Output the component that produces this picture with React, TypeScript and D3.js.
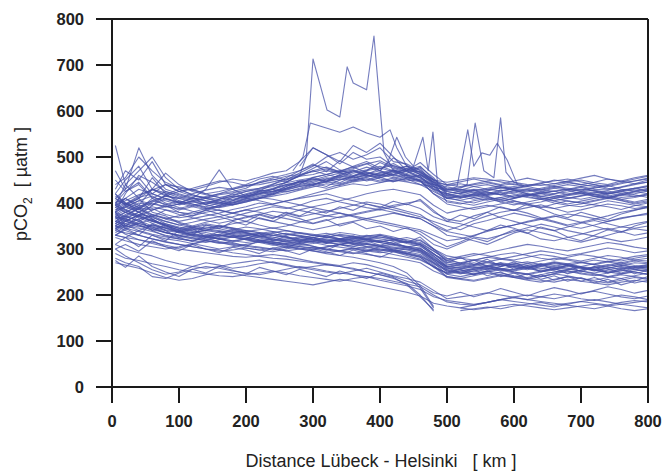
import React from "react";
import * as d3 from "d3";

// gap marker for stretches of a transect without measurements
const _ = null;

// distance along the Lübeck – Helsinki route [km]
const km = [5, 20, 40, 60, 80, 100, 120, 140, 160, 180, 200, 220, 240, 260, 280, 300, 320, 340, 360, 380, 400, 420, 440, 460, 480, 500, 520, 540, 560, 580, 600, 620, 640, 660, 680, 700, 720, 740, 760, 780, 800];

const xTicks = [0, 100, 200, 300, 400, 500, 600, 700, 800];
const yTicks = [0, 100, 200, 300, 400, 500, 600, 700, 800];

// pCO2 transects [µatm], cold-season crossings (high band)
const upperTracks: (number | null)[][] = [
  [400, 425, 445, 412, 405, 396, 402, 410, 418, 422, 428, 432, 441, 450, 458, 462, 470, 466, 472, 461, 456, 447, 452, 440, 436, 425, 420, 428, 416, 422, 412, 418, 421, 426, 418, 422, 415, 411, 420, 426, 430],
  [380, 395, 410, 430, 418, 405, 398, 392, 400, 412, 420, 428, 425, 436, 448, 445, 452, 460, 455, 463, 470, 458, 462, 450, 432, 418, 412, 420, 424, 418, 428, 420, 415, 410, 416, 420, 424, 418, 412, 415, 418],
  [360, 372, 390, 405, 398, 385, 392, 400, 408, 415, 412, 420, 430, 438, 442, 455, 448, 462, 470, 458, 465, 472, 460, 455, 440, 428, 430, 424, 418, 426, 432, 428, 422, 426, 430, 425, 418, 422, 428, 432, 425],
  [525, 440, 470, 500, 455, 430, 418, 410, 405, 400, 410, 418, 424, 430, 436, 440, 446, 452, 448, 456, 462, 455, 448, 452, 438, 412, 405, 400, 408, 412, 405, 398, 402, 410, 404, 400, 406, 412, 405, 398, 402],
  [390, 410, 430, 420, 440, 425, 415, 412, 420, 430, 438, 440, 446, 452, 460, 470, 478, 468, 480, 490, 475, 482, 470, 468, 445, 440, 436, 442, 448, 450, 445, 440, 438, 442, 446, 450, 444, 440, 448, 455, 460],
  [372, 385, 400, 395, 410, 402, 395, 388, 392, 398, 405, 410, 418, 425, 430, 438, 432, 440, 448, 452, 445, 450, 456, 448, 428, 410, 415, 418, 412, 408, 415, 420, 412, 405, 410, 415, 420, 414, 408, 412, 418],
  [410, 430, 520, 460, 430, 420, 412, 405, 400, 396, 402, 410, 415, 420, 428, 435, 442, 438, 446, 450, 458, 462, 452, 446, 430, 420, 426, 430, 428, 432, 436, 432, 428, 434, 440, 436, 430, 428, 435, 442, 445],
  [350, 365, 380, 400, 392, 388, 395, 402, 398, 405, 412, 420, 426, 432, 440, 448, 455, 450, 458, 465, 460, 468, 474, 462, 440, 430, 426, 422, 430, 436, 428, 424, 430, 436, 432, 428, 434, 438, 430, 426, 432],
  [430, 470, 450, 490, 440, 425, 430, 420, 412, 418, 425, 430, 436, 445, 460, 475, 490, 472, 460, 470, 488, 475, 480, 465, 442, 435, 430, 426, 432, 438, 442, 436, 430, 425, 430, 436, 440, 432, 426, 432, 438],
  [385, 398, 412, 420, 408, 400, 410, 430, 472, 430, 415, 422, 430, 440, 445, 450, 458, 465, 455, 460, 452, 446, 454, 460, 445, 402, 398, 405, 410, 402, 396, 402, 408, 400, 395, 392, 398, 405, 400, 395, 392],
  [395, 405, 418, 428, 440, 435, 428, 420, 425, 432, 440, 452, 458, 450, 465, 480, 500, 510, 495, 505, 520, 490, 485, 470, 450, 445, 450, 455, 452, 446, 440, 436, 442, 450, 446, 440, 445, 452, 448, 442, 450],
  [345, 360, 375, 370, 385, 380, 376, 384, 392, 400, 408, 415, 420, 428, 436, 442, 448, 455, 450, 458, 466, 460, 470, 458, 436, 410, 418, 412, 406, 412, 418, 412, 408, 414, 420, 424, 418, 412, 418, 424, 428],
  [420, 450, 480, 430, 415, 410, 420, 428, 434, 430, 436, 444, 452, 446, 458, 470, 462, 455, 468, 478, 470, 462, 476, 468, 445, 425, 420, 415, 420, 428, 424, 418, 425, 432, 428, 420, 415, 410, 418, 425, 420],
  [375, 390, 405, 398, 392, 398, 405, 412, 408, 415, 425, 432, 438, 444, 450, 455, 462, 470, 465, 472, 480, 470, 462, 458, 430, 415, 410, 420, 415, 405, 410, 416, 422, 418, 412, 408, 414, 420, 425, 418, 412],
  [400, 410, 395, 430, 465, 440, 425, 418, 412, 406, 415, 420, 425, 432, 438, 444, 436, 450, 458, 448, 455, 462, 470, 476, 440, 432, 428, 436, 440, 434, 430, 426, 432, 438, 444, 440, 436, 430, 434, 440, 446],
  [365, 380, 392, 405, 415, 410, 402, 398, 405, 412, 418, 426, 430, 424, 432, 440, 446, 442, 450, 455, 448, 454, 460, 448, 420, 405, 400, 395, 402, 408, 400, 395, 390, 398, 405, 400, 396, 392, 386, 394, 400],
  [440, 455, 500, 470, 445, 432, 428, 436, 445, 452, 448, 456, 465, 470, 490, 520, 505, 485, 510, 495, 500, 480, 475, 462, 450, 438, 442, 436, 430, 426, 432, 438, 442, 436, 430, 426, 432, 438, 444, 448, 452],
  [390, 400, 385, 410, 425, 418, 410, 405, 400, 408, 415, 424, 432, 440, 446, 452, 448, 460, 470, 462, 455, 466, 472, 480, 450, 420, 412, 416, 422, 418, 412, 416, 420, 414, 410, 416, 422, 426, 420, 414, 420],
  [405, 398, 415, 430, 422, 412, 406, 400, 395, 402, 410, 405, 398, 404, 412, 420, 428, 436, 442, 438, 444, 450, 446, 440, 425, 410, 406, 412, 418, 424, 420, 414, 408, 412, 418, 424, 428, 422, 416, 420, 426],
  [355, 370, 388, 402, 415, 425, 432, 440, 448, 445, 438, 444, 450, 458, 462, 468, 474, 466, 458, 470, 476, 468, 458, 448, 420, 398, 392, 386, 392, 398, 404, 398, 392, 388, 394, 398, 404, 410, 406, 400, 405],
  [380, 420, 460, 445, 425, 415, 408, 414, 420, 425, 432, 446, 455, 462, 470, 482, 476, 468, 475, 485, 492, 478, 468, 455, 435, 428, 434, 440, 444, 438, 432, 438, 444, 448, 452, 446, 440, 436, 442, 448, 454],
  [415, 400, 390, 385, 392, 398, 404, 396, 390, 396, 402, 410, 420, 430, 442, 456, 462, 470, 478, 466, 460, 470, 480, 472, 448, 416, 422, 428, 424, 418, 424, 430, 426, 420, 424, 430, 426, 420, 424, 430, 436],
  [470, 430, 455, 420, 410, 400, 392, 386, 395, 405, 418, 426, 440, 455, 470, 485, 468, 492, 478, 486, 470, 498, 482, 466, 452, 430, 424, 418, 426, 434, 428, 420, 414, 420, 428, 434, 426, 420, 426, 432, 436],
  [335, 350, 372, 395, 418, 430, 418, 410, 402, 396, 404, 412, 422, 436, 448, 452, 446, 458, 452, 462, 475, 486, 470, 488, 462, 440, 446, 452, 446, 440, 448, 454, 448, 442, 448, 454, 460, 452, 446, 452, 458],
  [395, 440, 410, 455, 420, 400, 412, 396, 408, 420, 412, 425, 418, 432, 446, 438, 452, 444, 458, 468, 458, 472, 464, 478, 455, 420, 414, 408, 414, 402, 410, 418, 410, 404, 398, 404, 410, 416, 408, 402, 408],
];

// transects drifting between the two bands
const middleTracks: (number | null)[][] = [
  [370, 380, 395, 388, 375, 368, 372, 380, 385, 378, 385, 392, 398, 405, 410, 415, 420, 412, 405, 398, 392, 385, 378, 370, 360, 350, 342, 355, 362, 370, 378, 372, 365, 358, 350, 345, 352, 360, 368, 372, 375],
  [340, 355, 365, 372, 360, 352, 358, 365, 370, 362, 368, 375, 382, 378, 370, 376, 382, 388, 395, 402, 398, 390, 382, 375, 355, 340, 350, 362, 372, 380, 385, 378, 368, 360, 352, 358, 365, 372, 380, 385, 390],
  [395, 385, 372, 360, 352, 345, 350, 358, 364, 370, 378, 385, 392, 388, 395, 405, 410, 402, 396, 390, 385, 392, 398, 388, 370, 360, 355, 348, 340, 346, 352, 360, 366, 372, 365, 358, 350, 342, 348, 355, 360],
  [355, 368, 380, 392, 385, 375, 368, 362, 356, 362, 370, 376, 368, 375, 385, 392, 398, 405, 412, 420, 426, 430, 424, 418, 395, 378, 385, 390, 395, 390, 384, 390, 396, 388, 380, 385, 392, 398, 394, 388, 392],
  [420, 400, 380, 365, 350, 342, 336, 340, 348, 355, 360, 352, 345, 350, 358, 365, 372, 378, 370, 362, 356, 350, 344, 338, 320, 305, 315, 328, 340, 352, 345, 335, 322, 318, 325, 332, 340, 345, 338, 330, 335],
  [380, 392, 405, 415, 400, 390, 382, 376, 370, 378, 385, 380, 372, 366, 360, 355, 362, 370, 376, 382, 388, 395, 400, 405, 380, 365, 360, 372, 380, 368, 360, 352, 345, 340, 348, 356, 362, 355, 348, 345, 350],
  [330, 345, 360, 375, 368, 360, 366, 372, 378, 386, 392, 400, 396, 390, 384, 378, 372, 368, 374, 380, 386, 380, 372, 366, 350, 330, 325, 318, 310, 322, 335, 342, 336, 328, 320, 315, 322, 330, 338, 344, 340],
  [350, 362, 372, 384, 396, 404, 398, 390, 384, 378, 372, 366, 360, 354, 348, 342, 348, 354, 360, 366, 360, 354, 348, 342, 330, 318, 322, 330, 338, 346, 352, 358, 364, 370, 376, 372, 366, 360, 366, 372, 378],
  [410, 398, 386, 374, 366, 372, 380, 388, 394, 400, 406, 412, 408, 402, 396, 390, 384, 378, 372, 366, 372, 378, 372, 366, 350, 338, 332, 326, 322, 330, 338, 346, 354, 348, 340, 334, 328, 322, 316, 320, 326],
  [450, 425, 440, 410, 395, 380, 372, 385, 376, 368, 360, 374, 366, 380, 372, 386, 378, 392, 384, 398, 390, 404, 396, 408, 384, 360, 374, 366, 380, 392, 384, 398, 388, 376, 368, 380, 372, 364, 376, 384, 392],
  [310, 325, 305, 330, 318, 340, 330, 352, 344, 360, 352, 368, 360, 374, 366, 356, 364, 350, 358, 344, 350, 338, 346, 332, 310, 300, 312, 324, 316, 330, 342, 334, 348, 340, 326, 318, 330, 342, 336, 350, 358],
];

// warm-season crossings (low band)
const lowerTracks: (number | null)[][] = [
  [360, 350, 345, 338, 330, 325, 332, 328, 322, 318, 314, 318, 322, 316, 320, 325, 330, 322, 318, 315, 318, 312, 305, 300, 285, 262, 258, 264, 270, 266, 260, 255, 262, 268, 264, 258, 252, 258, 264, 270, 268],
  [380, 370, 362, 350, 342, 338, 330, 325, 332, 340, 335, 328, 322, 318, 312, 318, 325, 332, 328, 322, 316, 320, 325, 318, 300, 272, 266, 260, 255, 262, 268, 272, 266, 260, 256, 262, 268, 274, 270, 264, 260],
  [400, 385, 372, 360, 355, 348, 342, 345, 350, 346, 340, 335, 330, 326, 322, 320, 315, 318, 312, 310, 306, 302, 298, 292, 270, 255, 250, 246, 252, 258, 250, 245, 240, 246, 252, 248, 244, 240, 246, 250, 245],
  [345, 332, 320, 315, 308, 302, 310, 318, 325, 330, 326, 320, 315, 310, 305, 300, 305, 310, 316, 312, 306, 300, 292, 285, 265, 240, 236, 242, 248, 244, 238, 234, 240, 246, 242, 236, 232, 238, 244, 240, 236],
  [365, 372, 360, 345, 335, 330, 336, 342, 338, 332, 326, 320, 316, 312, 308, 312, 318, 315, 310, 305, 300, 296, 290, 282, 260, 248, 252, 258, 262, 256, 250, 246, 252, 258, 264, 260, 254, 248, 252, 258, 262],
  [330, 325, 340, 352, 346, 338, 332, 326, 322, 318, 322, 326, 330, 334, 330, 325, 320, 316, 322, 328, 332, 326, 318, 312, 295, 278, 284, 290, 286, 280, 276, 282, 288, 284, 278, 274, 280, 286, 282, 276, 280],
  [390, 380, 370, 362, 352, 345, 340, 336, 330, 326, 330, 334, 338, 332, 328, 322, 318, 320, 325, 330, 326, 322, 316, 310, 290, 268, 262, 258, 264, 270, 266, 260, 256, 262, 268, 272, 266, 260, 256, 262, 266],
  [350, 345, 338, 330, 322, 318, 312, 306, 300, 305, 310, 315, 312, 308, 302, 298, 304, 310, 306, 300, 296, 300, 304, 298, 280, 256, 260, 266, 262, 256, 252, 258, 264, 270, 266, 260, 254, 250, 256, 262, 258],
  [375, 362, 350, 342, 336, 330, 325, 320, 328, 334, 330, 324, 318, 322, 326, 320, 314, 310, 316, 322, 318, 312, 316, 310, 290, 265, 270, 276, 272, 266, 262, 268, 274, 280, 276, 270, 266, 272, 278, 284, 288],
  [410, 395, 380, 365, 350, 342, 348, 355, 350, 345, 338, 342, 346, 340, 334, 330, 334, 328, 322, 326, 330, 324, 320, 314, 296, 275, 270, 265, 272, 278, 274, 268, 262, 258, 264, 270, 276, 272, 266, 260, 265],
  [340, 335, 330, 322, 315, 310, 305, 300, 295, 298, 302, 298, 294, 300, 306, 302, 298, 294, 290, 296, 300, 296, 290, 284, 270, 245, 240, 246, 252, 248, 242, 238, 244, 250, 256, 252, 246, 240, 236, 242, 248],
  [385, 392, 380, 368, 360, 352, 346, 340, 336, 342, 348, 344, 338, 332, 328, 325, 330, 336, 332, 326, 322, 318, 314, 320, 300, 285, 280, 276, 282, 288, 292, 286, 280, 276, 282, 288, 284, 278, 274, 280, 285],
  [355, 348, 356, 364, 352, 340, 334, 328, 332, 326, 320, 316, 312, 318, 324, 330, 326, 320, 314, 310, 306, 310, 304, 296, 275, 258, 254, 250, 256, 262, 268, 264, 258, 252, 248, 254, 260, 266, 262, 256, 252],
  [370, 365, 355, 348, 340, 336, 330, 325, 322, 326, 330, 326, 320, 315, 312, 316, 322, 318, 312, 306, 304, 298, 294, 288, 268, 252, 246, 252, 258, 254, 248, 244, 250, 256, 252, 246, 242, 248, 254, 250, 244],
  [395, 410, 390, 375, 365, 358, 350, 344, 340, 336, 332, 328, 324, 330, 336, 332, 326, 322, 326, 320, 315, 320, 314, 308, 285, 262, 258, 254, 260, 266, 262, 258, 264, 270, 266, 260, 256, 262, 268, 274, 270],
  [325, 318, 310, 305, 300, 305, 312, 318, 314, 308, 302, 298, 302, 306, 310, 306, 300, 296, 300, 304, 298, 294, 288, 282, 262, 238, 234, 230, 236, 242, 238, 232, 228, 234, 240, 236, 230, 226, 232, 238, 234],
  [360, 375, 388, 370, 355, 345, 338, 332, 328, 335, 340, 336, 330, 325, 320, 316, 312, 318, 322, 318, 314, 310, 306, 302, 282, 260, 265, 270, 264, 258, 254, 260, 266, 272, 268, 262, 258, 264, 270, 276, 274],
  [345, 352, 340, 332, 326, 322, 318, 314, 320, 326, 322, 318, 314, 310, 314, 318, 314, 310, 306, 312, 308, 304, 300, 296, 276, 250, 256, 262, 258, 252, 256, 262, 268, 264, 258, 252, 248, 254, 260, 256, 250],
  [360, 355, 348, 352, 345, 338, 342, 348, 344, 338, 334, 330, 336, 340, 335, 330, 326, 322, 318, 322, 326, 320, 312, 306, 288, 275, 280, 286, 292, 298, 304, 310, 306, 300, 296, 302, 308, 314, 310, 304, 300],
  [395, 380, 368, 356, 345, 336, 328, 322, 316, 312, 308, 304, 300, 296, 300, 304, 300, 296, 292, 288, 284, 280, 276, 270, 252, 240, 236, 232, 238, 244, 240, 236, 232, 228, 234, 230, 226, 222, 228, 232, 228],
  [342, 360, 375, 362, 348, 340, 346, 352, 348, 342, 336, 332, 326, 320, 316, 320, 326, 330, 326, 320, 314, 308, 302, 298, 278, 262, 268, 275, 282, 278, 284, 290, 296, 292, 286, 290, 296, 302, 298, 292, 296],
  [378, 366, 352, 340, 328, 322, 318, 324, 330, 326, 320, 314, 308, 312, 318, 314, 308, 304, 300, 296, 292, 296, 300, 294, 272, 254, 248, 244, 250, 256, 262, 258, 252, 256, 262, 258, 254, 258, 264, 260, 256],
  [330, 342, 356, 348, 336, 330, 324, 318, 312, 316, 322, 318, 312, 306, 300, 296, 292, 296, 302, 298, 294, 288, 282, 276, 262, 246, 250, 256, 262, 268, 264, 258, 252, 248, 254, 260, 256, 250, 246, 252, 256],
  [370, 360, 352, 344, 336, 328, 322, 318, 314, 310, 306, 302, 298, 304, 300, 296, 290, 286, 282, 276, 270, 262, 248, 220, 175, _, _, _, _, _, _, _, _, _, _, _, _, _, _, _, _],
  [380, 350, 365, 340, 352, 335, 345, 326, 338, 330, 322, 334, 318, 328, 316, 326, 312, 322, 310, 318, 308, 316, 304, 310, 290, 270, 282, 266, 278, 262, 272, 258, 268, 254, 266, 250, 262, 248, 258, 246, 254],
  [420, 395, 410, 380, 372, 356, 348, 340, 352, 344, 336, 328, 334, 326, 318, 324, 316, 322, 328, 320, 330, 322, 314, 326, 300, 280, 268, 276, 262, 270, 256, 264, 250, 258, 246, 254, 262, 256, 248, 256, 262],
  [300, 310, 295, 318, 305, 296, 310, 300, 292, 304, 298, 290, 302, 296, 288, 300, 294, 286, 298, 290, 282, 294, 286, 278, 262, 248, 256, 244, 252, 240, 248, 236, 244, 232, 240, 230, 238, 228, 236, 226, 232],
  [370, 345, 330, 355, 340, 325, 316, 330, 322, 314, 306, 318, 310, 302, 314, 306, 298, 310, 302, 294, 306, 298, 290, 302, 278, 260, 248, 256, 242, 250, 238, 246, 234, 242, 230, 238, 226, 234, 222, 230, 240],
];

// lowest transects, some interrupted near 490–530 km
const bottomTracks: (number | null)[][] = [
  [300, 285, 270, 255, 245, 250, 262, 270, 265, 258, 262, 268, 272, 266, 260, 255, 250, 246, 252, 258, 250, 242, 236, 228, 210, 192, 196, 200, 205, 200, 195, 190, 196, 202, 198, 192, 188, 194, 200, 196, 190],
  [280, 270, 262, 240, 236, 248, 256, 262, 258, 252, 248, 244, 250, 256, 262, 258, 252, 248, 244, 240, 236, 230, 224, 218, 200, 185, 180, 178, 184, 190, 186, 182, 178, 174, 180, 186, 182, 178, 184, 188, 185],
  [310, 300, 292, 285, 275, 268, 262, 258, 262, 268, 272, 276, 270, 264, 258, 262, 266, 262, 256, 250, 244, 238, 222, 196, 168, _, _, _, _, _, _, _, _, _, _, _, _, _, _, _, _],
  [_, _, _, _, _, _, _, _, _, _, _, _, _, _, _, _, _, _, _, _, _, _, _, _, _, _, 166, 170, 174, 170, 176, 180, 184, 178, 182, 186, 190, 185, 180, 184, 188],
  [350, 340, 330, 322, 316, 310, 305, 300, 298, 292, 288, 284, 280, 278, 274, 270, 266, 262, 258, 250, 244, 236, 225, 200, 165, _, _, _, _, _, _, _, _, _, _, _, _, _, _, _, _],
  [_, _, _, _, _, _, _, _, _, _, _, _, _, _, _, _, _, _, _, _, _, _, _, _, _, _, 172, 178, 184, 190, 196, 200, 196, 192, 198, 204, 208, 202, 196, 192, 198],
  [290, 280, 275, 268, 262, 255, 250, 246, 242, 240, 244, 248, 252, 248, 242, 238, 234, 230, 236, 240, 232, 226, 220, 212, 196, 188, 184, 180, 184, 190, 194, 190, 186, 182, 178, 174, 170, 176, 180, 176, 172],
  [270, 265, 258, 248, 238, 232, 236, 244, 250, 248, 242, 238, 234, 230, 226, 222, 228, 234, 230, 224, 218, 212, 206, 198, 182, 176, 172, 168, 172, 176, 180, 176, 172, 168, 172, 176, 180, 176, 170, 166, 170],
  [330, 325, 320, 312, 305, 300, 296, 292, 288, 284, 282, 285, 288, 284, 278, 272, 268, 264, 270, 266, 258, 250, 240, 215, 172, _, _, _, _, _, _, _, _, _, _, _, _, _, _, _, _],
  [275, 260, 285, 262, 250, 240, 256, 248, 262, 254, 246, 260, 252, 244, 256, 248, 240, 252, 244, 236, 248, 240, 230, 222, 205, 198, 206, 196, 204, 214, 206, 198, 208, 216, 210, 202, 210, 218, 212, 204, 210],
];

// short stretches with strong excursions (own distance points)
const spikeKm: number[][] = [
  [240, 260, 280, 290, 300, 321, 340, 351, 360, 380, 391, 400, 406, 420, 440, 460, 480],
  [270, 285, 296, 315, 340, 360, 380, 400, 415, 425, 440, 460, 480],
  [280, 300, 320, 340, 360, 380, 400, 420, 440, 460],
  [400, 412, 425, 438, 450, 464, 472, 479, 486],
  [505, 515, 531, 540, 552, 564, 575, 590, 605],
  [520, 530, 542, 555, 570, 580, 588, 600, 615],
];
const spikeValues: number[][] = [
  [430, 445, 460, 500, 713, 602, 587, 696, 661, 646, 763, 609, 509, 470, 455, 448, 440],
  [470, 500, 574, 565, 554, 565, 552, 543, 559, 520, 480, 462, 445],
  [480, 520, 505, 490, 525, 510, 530, 500, 470, 455],
  [470, 490, 543, 500, 480, 543, 470, 554, 440],
  [430, 436, 559, 480, 509, 504, 530, 493, 440],
  [432, 440, 574, 470, 455, 585, 467, 445, 438],
];

const W = 666;
const H = 471;

export default function App() {
  const x = d3.scaleLinear().domain([0, 800]).range([112, 648]);
  const y = d3.scaleLinear().domain([0, 800]).range([387, 19]);

  const line = d3
    .line<[number, number | null]>()
    .defined((d) => d[1] != null)
    .x((d) => x(d[0]))
    .y((d) => y(d[1] as number));

  const gridTracks = [...upperTracks, ...middleTracks, ...lowerTracks, ...bottomTracks];
  const paths: string[] = [];
  gridTracks.forEach((vals) => {
    paths.push(line(km.map((k, i) => [k, vals[i]] as [number, number | null])) || "");
  });
  spikeKm.forEach((ks, j) => {
    paths.push(line(ks.map((k, i) => [k, spikeValues[j][i]] as [number, number | null])) || "");
  });

  const axisColor = "#1a1a1a";
  const font = "'Liberation Sans', Arial, sans-serif";

  return (
    <svg
      width={W}
      height={H}
      viewBox={`0 0 ${W} ${H}`}
      style={{ position: "absolute", left: 0, top: 0, background: "#fff" }}
    >
      <g fill="none" stroke="#4650a8" strokeWidth={1.1} strokeOpacity={0.75} strokeLinejoin="round">
        {paths.map((d, i) => (
          <path key={i} d={d} />
        ))}
      </g>

      {/* frame and axes */}
      <g stroke={axisColor} strokeWidth={2} fill="none">
        <line x1={x(0)} x2={x(800)} y1={y(0)} y2={y(0)} />
        <line x1={x(0)} x2={x(800)} y1={y(800)} y2={y(800)} />
        <line x1={x(0)} x2={x(0)} y1={y(800)} y2={y(0)} />
        <line x1={x(800)} x2={x(800)} y1={y(800)} y2={y(0)} />
        {yTicks.map((t) => (
          <line key={`yt${t}`} x1={x(0) - 16} x2={x(0)} y1={y(t)} y2={y(t)} />
        ))}
        {xTicks.map((t) => (
          <line key={`xt${t}`} x1={x(t)} x2={x(t)} y1={y(0)} y2={y(0) + 16} />
        ))}
      </g>

      <g fill="#222" fontFamily={font} fontSize={16.5} fontWeight="bold">
        {yTicks.map((t) => (
          <text key={`yl${t}`} x={84} y={y(t)} dy="0.36em" textAnchor="end">
            {t}
          </text>
        ))}
        {xTicks.map((t) => (
          <text key={`xl${t}`} x={x(t)} y={427} textAnchor="middle">
            {t}
          </text>
        ))}
      </g>

      <text
        x={381}
        y={467}
        textAnchor="middle"
        fontFamily={font}
        fontSize={18}
        fill="#222"
        style={{ whiteSpace: "pre" }}
      >
        {"Distance Lübeck - Helsinki   [ km ]"}
      </text>

      <text
        transform="translate(27,184) rotate(-90)"
        textAnchor="middle"
        fontFamily={font}
        fontSize={18}
        fill="#222"
        style={{ whiteSpace: "pre" }}
      >
        pCO
        <tspan fontSize={12} dy={5}>2</tspan>
        <tspan dy={-5}>{"  [ µatm ]"}</tspan>
      </text>
    </svg>
  );
}
